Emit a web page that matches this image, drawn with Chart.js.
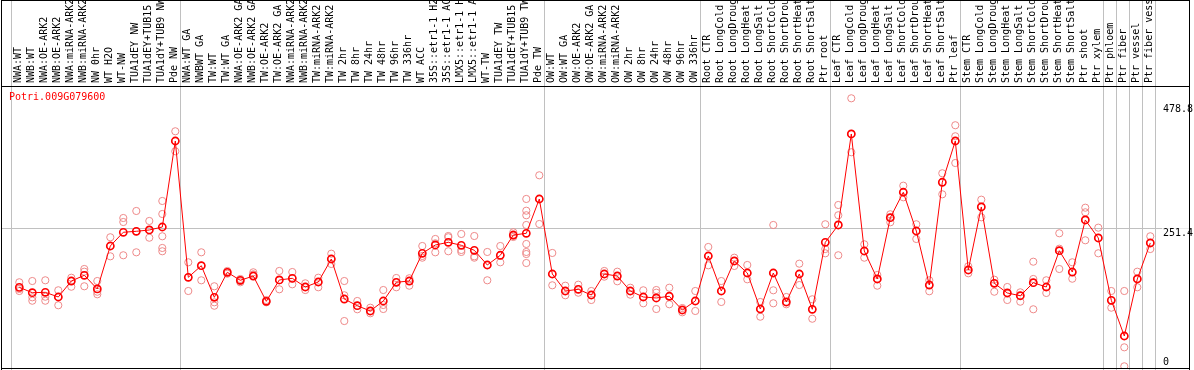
<!DOCTYPE html>
<html>
<head>
<meta charset="utf-8">
<script src="https://cdn.jsdelivr.net/npm/chart.js@4.4.1/dist/chart.umd.min.js"></script>
<style>
  html, body { margin: 0; padding: 0; background: #fff; }
  #wrap { width: 1194px; height: 370px; position: relative; }
</style>
</head>
<body>
<div id="wrap"><canvas id="c" width="1194" height="370"></canvas></div>
<script>
const geneId = "Potri.009G079600";

const categories = [
  "NWA:WT","NWB:WT","NWA:OE-ARK2","NWB:OE-ARK2","NWA:miRNA-ARK2","NWB:miRNA-ARK2","NW 0hr","WT H2O","WT-NW",
  "TUA1dEY NW","TUA1dEY+TUB15 NW","TUA1dY+TUB9 NW","Pde NW",
  "NWA:WT GA","NWBWT GA","TW:WT","TW:WT GA","NWA:OE-ARK2 GA","NWB:OE-ARK2 GA","TW:OE-ARK2","TW:OE-ARK2 GA",
  "NWA:miRNA-ARK2 GA","NWB:miRNA-ARK2 GA","TW:miRNA-ARK2","TW:miRNA-ARK2 GA","TW 2hr","TW 8hr","TW 24hr","TW 48hr",
  "TW 96hr","TW 336hr","WT ACC","35S::etr1-1 H2O","35S::etr1-1 ACC","LMX5::etr1-1 H2O","LMX5::etr1-1 ACC","WT-TW",
  "TUA1dEY TW","TUA1dEY+TUB15 TW","TUA1dY+TUB9 TW","Pde TW",
  "OW:WT","OW:WT GA","OW:OE-ARK2","OW:OE-ARK2 GA","OW:miRNA-ARK2","OW:miRNA-ARK2 GA","OW 2hr","OW 8hr","OW 24hr",
  "OW 48hr","OW 96hr","OW 336hr",
  "Root CTR","Root LongCold","Root LongDrought","Root LongHeat","Root LongSalt","Root ShortCold","Root ShortDrought",
  "Root ShortHeat","Root ShortSalt","Ptr root",
  "Leaf CTR","Leaf LongCold","Leaf LongDrought","Leaf LongHeat","Leaf LongSalt","Leaf ShortCold","Leaf ShortDrought",
  "Leaf ShortHeat","Leaf ShortSalt","Ptr leaf",
  "Stem CTR","Stem LongCold","Stem LongDrought","Stem LongHeat","Stem LongSalt","Stem ShortCold","Stem ShortDrought",
  "Stem ShortHeat","Stem ShortSalt","Ptr shoot","Ptr xylem",
  "Ptr phloem","Ptr fiber","Ptr vessel","Ptr fiber vessel"
];

const means = [
  143.9,134.1,134.8,126.3,155.4,165.8,140.9,219.2,244.2,246.0,248.4,253.8,410.5,
  162.2,183.3,125.7,171.3,156.7,164.5,118.4,157.3,160.3,144.5,153.6,195.5,122.6,110.4,100.8,119.0,
  153.1,155.4,205.9,221.0,225.9,220.5,211.4,184.6,202.3,239.2,242.3,304.8,
  168.2,137.2,140.3,129.9,168.2,164.5,137.2,126.3,124.5,127.6,102.6,119.0,
  201.0,137.2,191.9,170.0,104.4,170.0,117.2,168.2,103.9,225.9,
  257.5,423.3,210.1,159.1,270.8,317.1,246.5,148.1,335.3,410.5,
  175.5,290.3,151.2,133.6,128.6,152.3,144.5,210.6,171.8,266.6,233.8,
  120.3,55.2,159.1,224.7
];

const replicates = [
  [153.1,140.9,137.2],[155.4,125.7,119.5],[156.7,126.8,119.5],[138.5,126.3,111.2],[161.4,155.4,145.0],
  [177.3,172.4,145.8],[155.4,135.9,131.2],[235.1,219.2,200.4],[270.2,262.9,202.3],[283.0,246.0,207.7],
  [264.8,248.4,234.3],[301.2,277.5,236.9,215.6,209.6],[428.2,410.5,391.8],
  [189.5,162.2,137.2],[207.7,183.3,156.7],[145.8,116.6,110.4],[173.7,171.3,168.7],[159.1,155.4,153.1],
  [171.3,167.6,164.5],[120.8,118.4,116.6],[173.7,156.7,140.3],[171.8,160.3,149.4],[151.2,144.5,139.0],
  [161.4,153.6,144.0],[205.2,195.5,186.4],[155.4,129.4,82.5],[119.0,110.4,103.9],[106.8,100.8,96.6],
  [139.0,111.7,104.4],[160.9,153.1,144.0],[160.4,155.4,146.9],[219.2,201.0,197.9],[232.0,224.1,207.7],
  [237.4,235.1,209.6],[241.1,211.9,208.3],[237.4,200.4,197.9],[208.3,184.6,156.7],[219.2,202.3,189.5],
  [244.2,238.0,235.6],[304.9,283.5,275.2,257.5,222.9,208.3,204.6,188.2],[348.0,304.9,259.3],
  [206.5,168.2,147.6],[146.9,137.2,129.4],[148.7,140.3,134.1],[137.2,129.9,120.8],[173.7,168.2,163.3],
  [172.4,164.5,154.9],[143.2,137.2,130.5],[138.5,126.3,114.8],[139.0,134.1,104.4],[143.2,127.6,113.0],
  [106.2,102.6,98.4],[137.2,119.0,100.8],
  [217.4,201.0,184.0],[155.4,137.2,117.2],[197.9,191.9,182.8],[184.6,170.0,158.5],[117.2,104.4,90.4],
  [257.5,170.0,138.5,114.8],[126.3,117.2,113.0],[187.0,168.2,148.1],[122.1,103.9,86.7],[258.8,225.9,213.7,205.9],
  [293.9,275.2,257.5,202.3],[488.3,423.3,390.0],[222.3,210.1,197.9],[166.4,159.1,146.9],[277.0,270.8,262.4],
  [329.1,317.1,307.9],[258.8,246.5,232.0],[156.7,148.1,136.7],[351.7,335.3,313.4],[439.2,419.1,410.5,370.4],
  [182.2,175.5,169.5],[303.6,290.3,271.5],[157.8,151.2,135.9],[144.5,133.6,120.8],[134.8,128.6,117.7],
  [190.6,159.1,152.3,103.9],[156.7,144.5,133.6],[242.4,214.3,210.6,177.3],[189.5,171.8,159.6],
  [289.0,280.6,266.6,229.6],[252.6,233.8,205.9],
  [137.2,120.3,106.8],[137.2,55.2,34.6,0],[172.4,159.1,144.0],[236.9,224.7,213.7]
];

const yTickValues = [0, 251.4, 478.8];
const yGridValue = 251.4;
const groupEnds = [-1, 12, 40, 52, 62, 72, 83, 84, 85, 86, 87];

const FONT = "DejaVu Sans Mono";

const meanData = means.map((v, i) => ({ x: i, y: v }));
const repData = [];
replicates.forEach((arr, i) => arr.forEach(v => repData.push({ x: i, y: v })));

const overlay = {
  id: 'overlay',
  beforeDatasetsDraw(chart) {
    const ctx = chart.ctx, xs = chart.scales.x;
    ctx.save();
    ctx.strokeStyle = '#c0c0c0';
    ctx.lineWidth = 1;
    groupEnds.forEach(b => {
      const px = Math.round(xs.getPixelForValue(b + 0.36)) + 0.5;
      ctx.beginPath();
      ctx.moveTo(px, 0);
      ctx.lineTo(px, chart.height);
      ctx.stroke();
    });
    ctx.restore();
  },
  afterDraw(chart) {
    const ctx = chart.ctx, ys = chart.scales.y;
    ctx.save();
    ctx.fillStyle = '#000';
    ctx.fillRect(1, 0, 1, chart.height);
    ctx.fillRect(1189, 0, 1, chart.height);
    ctx.fillRect(1, 0, 1189, 1);
    ctx.fillRect(1, 368, 1189, 1);
    ctx.fillRect(1, 86, 1189, 1);
    ctx.fillStyle = '#ff0000';
    ctx.font = '10px "' + FONT + '"';
    ctx.textAlign = 'left';
    ctx.textBaseline = 'alphabetic';
    ctx.fillText(geneId, 9, 100);
    ys.ticks.forEach(t => {
      const py = ys.getPixelForValue(t.value);
      const label = String(t.value);
      const by = t.value === 0 ? py - 1 : py + 8;
      ctx.fillStyle = '#fff';
      ctx.fillRect(1162, by - 8, 27, 9);
      ctx.fillStyle = '#000';
      ctx.fillText(label, 1163, by);
    });
    ctx.restore();
  }
};

new Chart(document.getElementById('c'), {
  type: 'line',
  data: {
    datasets: [
      {
        label: 'mean',
        data: meanData,
        borderColor: '#ff0000',
        borderWidth: 1,
        tension: 0,
        pointRadius: 3.6,
        pointBorderWidth: 1.6,
        pointBorderColor: '#ff0000',
        pointBackgroundColor: 'rgba(0,0,0,0)',
        fill: false
      },
      {
        label: 'replicates',
        data: repData,
        showLine: false,
        pointRadius: 3.6,
        pointBorderWidth: 1,
        pointBorderColor: '#ee8a8a',
        pointBackgroundColor: 'rgba(0,0,0,0)'
      }
    ]
  },
  options: {
    responsive: false,
    animation: false,
    layout: { autoPadding: false, padding: { left: 1, right: 0, top: 0, bottom: 1 } },
    plugins: { legend: { display: false }, tooltip: { enabled: false }, title: { display: false } },
    scales: {
      x: {
        type: 'linear',
        position: 'top',
        min: -1.408,
        max: 89.977,
        afterBuildTicks: s => { s.ticks = categories.map((c, i) => ({ value: i })); },
        afterFit: s => { s.height = 86; s.paddingLeft = 0; s.paddingRight = 0; },
        grid: { display: false, drawTicks: false },
        border: { display: false },
        ticks: {
          autoSkip: false,
          minRotation: 90,
          maxRotation: 90,
          padding: 3,
          labelOffset: 11,
          color: '#000',
          font: { family: FONT, size: 10 },
          callback: v => categories[v] !== undefined ? categories[v] : ''
        }
      },
      y: {
        type: 'linear',
        position: 'right',
        min: -4.9,
        max: 510.7,
        afterBuildTicks: s => { s.ticks = yTickValues.map(v => ({ value: v })); },
        afterFit: s => { s.width = 5; s.paddingTop = 0; s.paddingBottom = 0; },
        border: { display: false },
        ticks: { display: false },
        grid: {
          drawTicks: false,
          lineWidth: 1,
          color: c => (c.tick && c.tick.value === yGridValue) ? '#c0c0c0' : 'rgba(0,0,0,0)'
        }
      }
    }
  },
  plugins: [overlay]
});
</script>
</body>
</html>
